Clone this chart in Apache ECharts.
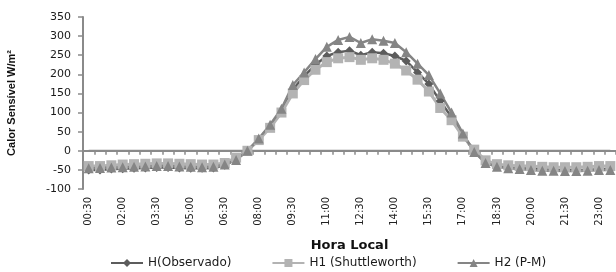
<!DOCTYPE html>
<html>
<head>
<meta charset="utf-8">
<script src="https://cdn.jsdelivr.net/npm/echarts@6/dist/echarts.min.js"></script>
<style>
  html, body { margin: 0; padding: 0; background: #ffffff; }
  #chart { width: 616px; height: 272px; }
</style>
</head>
<body>
<div id="chart"></div>
<script>
// half-hour steps, 00:30 .. 23:30
const horas = ['00:30','01:00','01:30','02:00','02:30','03:00','03:30','04:00','04:30','05:00',
  '05:30','06:00','06:30','07:00','07:30','08:00','08:30','09:00','09:30','10:00',
  '10:30','11:00','11:30','12:00','12:30','13:00','13:30','14:00','14:30','15:00',
  '15:30','16:00','16:30','17:00','17:30','18:00','18:30','19:00','19:30','20:00',
  '20:30','21:00','21:30','22:00','22:30','23:00','23:30'];

const hObservado = [-50,-50,-48,-47,-46,-45,-44,-44,-45,-46,-46,-45,-38,-22,0,30,65,105,160,195,
  225,248,258,262,250,258,255,248,235,205,175,130,88,40,-2,-30,-40,-44,-45,-46,
  -48,-50,-50,-50,-50,-48,-47];

const h1Shuttleworth = [-40,-40,-38,-36,-35,-34,-33,-33,-34,-35,-36,-36,-32,-18,0,28,60,100,150,185,
  212,232,242,245,238,242,238,228,210,186,155,112,80,37,3,-25,-35,-38,-40,-40,
  -42,-43,-43,-43,-42,-40,-40];

const h2PM = [-46,-45,-44,-43,-42,-41,-40,-40,-41,-42,-43,-42,-36,-24,0,32,68,110,172,205,
  240,272,290,298,282,292,288,282,258,228,198,150,100,45,-3,-32,-42,-46,-48,-50,
  -52,-52,-53,-53,-52,-50,-50];

const chart = echarts.init(document.getElementById('chart'));

// zero sits at 17 + 172 * 350/450 from the top
const zeroFromBottom = 272 - (17 + 172 * 350 / 450);

const axisGray = '#8a8a8a';

const option = {
  animation: false,
  textStyle: { fontFamily: 'DejaVu Sans' },
  grid: [
    { left: 83, right: 0, top: 17, bottom: 83, containLabel: false, outerBoundsMode: 'none' },
    // helper grid whose bottom edge is the zero line
    { left: 83, right: 0, top: 17, bottom: zeroFromBottom, containLabel: false, outerBoundsMode: 'none' }
  ],
  legend: {
    left: 105,
    bottom: -2,
    itemWidth: 32,
    itemHeight: 10,
    itemGap: 40,
    textStyle: { fontSize: 12, color: '#1a1a1a', fontFamily: 'DejaVu Sans' },
    data: ['H(Observado)', 'H1 (Shuttleworth)', 'H2 (P-M)']
  },
  xAxis: [
    {
      type: 'category',
      gridIndex: 0,
      data: horas,
      position: 'bottom',
      boundaryGap: true,
      name: 'Hora Local',
      nameLocation: 'middle',
      nameGap: 50,
      nameTextStyle: { fontSize: 13, fontWeight: 'bold', color: '#111', fontFamily: 'DejaVu Sans' },
      axisLine: { show: false, onZero: false },
      axisTick: { show: false },
      axisLabel: {
        interval: 2,
        rotate: 90,
        margin: 8,
        fontSize: 10,
        color: '#222',
        fontFamily: 'DejaVu Sans'
      },
      splitLine: { show: false }
    },
    {
      type: 'category',
      gridIndex: 1,
      data: horas,
      position: 'bottom',
      boundaryGap: true,
      axisLine: { show: true, onZero: false, lineStyle: { color: axisGray, width: 2 } },
      axisTick: { show: true, interval: 0, length: 4, lineStyle: { color: axisGray, width: 1.5 } },
      axisLabel: { show: false },
      splitLine: { show: false }
    }
  ],
  yAxis: [
    {
      type: 'value',
      gridIndex: 0,
      min: -100,
      max: 350,
      interval: 50,
      name: 'Calor Sensível W/m²',
      nameLocation: 'middle',
      nameGap: 66,
      nameTextStyle: { fontSize: 11, fontWeight: 'bold', color: '#111', fontFamily: 'Liberation Sans' },
      axisLine: { show: true, onZero: false, lineStyle: { color: axisGray, width: 2 } },
      axisTick: { show: true, length: 5, lineStyle: { color: axisGray, width: 1.5 } },
      axisLabel: { fontSize: 11, color: '#1a1a1a', margin: 12, fontFamily: 'DejaVu Sans' },
      splitLine: { show: false }
    },
    {
      type: 'value',
      gridIndex: 1,
      min: 0,
      max: 350,
      show: false
    }
  ],
  series: [
    {
      // zero baseline drawn as a plain line through the axes
      name: 'zero',
      type: 'line',
      data: horas.map(() => 0),
      symbol: 'none',
      silent: true,
      z: 1,
      lineStyle: { color: axisGray, width: 2 },
      tooltip: { show: false }
    },
    {
      name: 'H(Observado)',
      type: 'line',
      data: hObservado,
      showAllSymbol: true,
      symbol: 'diamond',
      symbolSize: 9,
      z: 3,
      lineStyle: { color: '#5c5c5c', width: 2.5 },
      itemStyle: { color: '#5c5c5c' }
    },
    {
      name: 'H1 (Shuttleworth)',
      type: 'line',
      data: h1Shuttleworth,
      showAllSymbol: true,
      symbol: 'rect',
      symbolSize: 10,
      z: 3,
      lineStyle: { color: '#b3b3b3', width: 3 },
      itemStyle: { color: '#b3b3b3' }
    },
    {
      name: 'H2 (P-M)',
      type: 'line',
      data: h2PM,
      showAllSymbol: true,
      symbol: 'triangle',
      symbolSize: 10,
      z: 3,
      lineStyle: { color: '#858585', width: 2.5 },
      itemStyle: { color: '#858585' }
    }
  ]
};

chart.setOption(option);
</script>
</body>
</html>
